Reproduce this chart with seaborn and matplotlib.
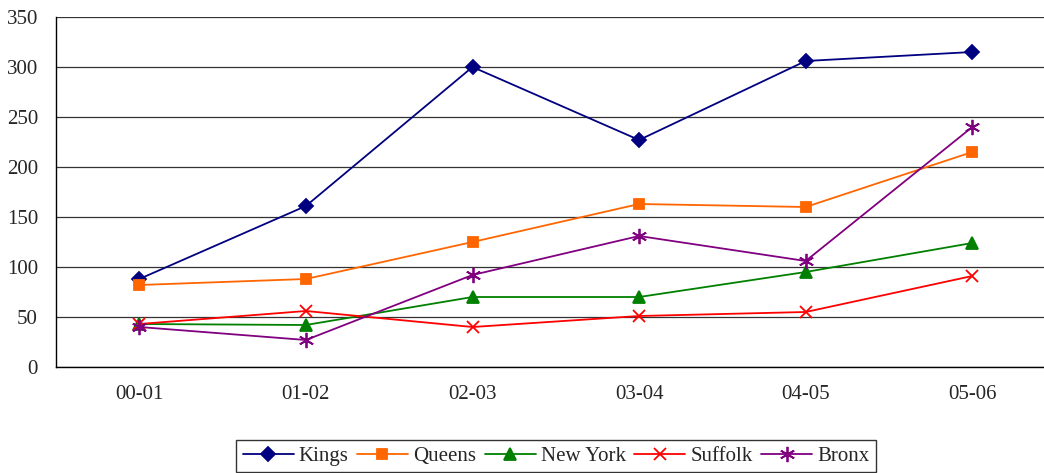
import numpy as np
import pandas as pd
import matplotlib
matplotlib.use("Agg")
import matplotlib.pyplot as plt
import seaborn as sns

years = ["00-01", "01-02", "02-03", "03-04", "04-05", "05-06"]
kings = [88, 161, 300, 227, 306, 315]
queens = [82, 88, 125, 163, 160, 215]
new_york = [43, 42, 70, 70, 95, 124]
suffolk = [43, 56, 40, 51, 55, 91]
bronx = [40, 27, 92, 131, 106, 240]

series = [
    ("Kings", kings, "#000080", "D", 7),
    ("Queens", queens, "#FF6600", "s", 7),
    ("New York", new_york, "#008000", "^", 8),
    ("Suffolk", suffolk, "#FF0000", "x", 9),
    ("Bronx", bronx, "#800080", (6, 2, 0), 11),
]

sns.set_style("white")
plt.rcParams["font.family"] = ["Liberation Serif", "DejaVu Serif"]

fig = plt.figure(figsize=(10.44, 4.73), dpi=100)
ax = fig.add_axes([56 / 1044, 106 / 473, 988 / 1044, 350 / 473])

for name, vals, color, marker, ms in series:
    df = pd.DataFrame({"year": np.arange(len(years)), "value": vals})
    sns.lineplot(data=df, x="year", y="value", ax=ax, color=color, marker=marker,
                 markersize=ms, markeredgecolor=color, markerfacecolor=color,
                 markeredgewidth=1.3, linewidth=1.3, label=name)

ax.set_yticks(np.arange(0, 351, 50))
ax.set_xticks(np.arange(len(years)))
ax.set_xticklabels(years)
ax.set_xticks(np.arange(-0.5, 5.0, 1), minor=True)
# limits after ticks, otherwise set_xticks widens the view
ax.set_xlim(-0.5, -0.5 + 988 / 166.6)
ax.set_ylim(0, 350)
ax.tick_params(axis="x", which="major", length=0, pad=13, labelsize=15)
ax.tick_params(axis="x", which="minor", length=5, width=1, color="black", direction="out")
ax.tick_params(axis="y", length=5, width=1, color="black", direction="out", labelsize=15, pad=8)
ax.set_xlabel("")
ax.set_ylabel("")
ax.yaxis.grid(True, color="#333333", linewidth=0.9)
ax.set_axisbelow(True)
for s in ["top", "right"]:
    ax.spines[s].set_visible(False)
for s in ["left", "bottom"]:
    ax.spines[s].set_color("black")
    ax.spines[s].set_linewidth(1)

leg = ax.legend(loc="center", bbox_to_anchor=(556 / 1044, 17 / 473),
                bbox_transform=fig.transFigure, ncol=5, frameon=True, fancybox=False,
                edgecolor="black", fontsize=15, handlelength=2.45, columnspacing=0.4,
                handletextpad=0.25, borderpad=0.3, borderaxespad=0)
leg.get_frame().set_linewidth(1)

fig.savefig("out.png", dpi=100)
